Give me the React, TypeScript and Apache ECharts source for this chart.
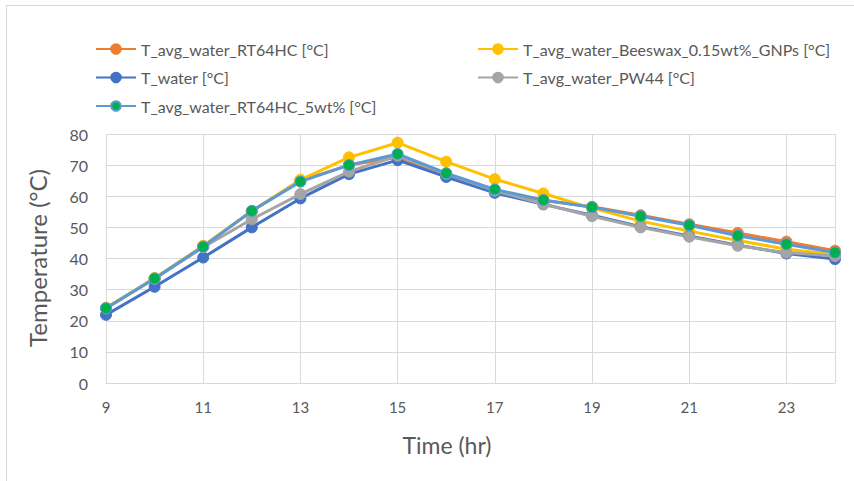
import React, { useEffect, useRef } from "react";
import * as echarts from "echarts";

const hours = [9, 10, 11, 12, 13, 14, 15, 16, 17, 18, 19, 20, 21, 22, 23, 24];
const rt64hc = [24, 33.6, 44, 55.2, 65, 70, 72.5, 66.5, 61.7, 58.6, 56.6, 53.9, 51, 48.2, 45.4, 42.5];
const beeswax = [24.2, 33.7, 44, 55.3, 65.3, 72.5, 77.2, 71.1, 65.5, 60.9, 56.2, 52, 48.8, 45.8, 43, 41.3];
const tWater = [21.9, 30.9, 40.3, 50, 59.3, 67.1, 71.6, 66.2, 61.1, 57.4, 53.9, 50.2, 47.2, 44.3, 41.6, 39.8];
const pw44 = [24, 33.5, 43.6, 52.6, 60.7, 67.9, 73, 67.2, 61.8, 57.5, 53.6, 50, 47, 44.1, 41.9, 40.8];
const rt64hc5 = [24, 33.6, 43.8, 55.3, 64.7, 70, 73.6, 67.4, 62.2, 58.8, 56.5, 53.6, 50.7, 47.3, 44.6, 41.9];

const seriesNames = [
  "T_avg_water_RT64HC [°C]",
  "T_avg_water_Beeswax_0.15wt%_GNPs [°C]",
  "T_water [°C]",
  "T_avg_water_PW44 [°C]",
  "T_avg_water_RT64HC_5wt% [°C]",
];
const lineColors = ["#ED7D31", "#FFC000", "#4472C4", "#A5A5A5", "#5B9BD5"];
const markerColors = ["#ED7D31", "#FFC000", "#4472C4", "#A5A5A5", "#00B050"];
const yTicks = [0, 80, 10];
const xTicks = [9, 24, 2];

const FONT = "Lato";
const TXT = "#595959";

export default function App() {
  const ref = useRef<HTMLDivElement>(null);
  useEffect(() => {
    if (!ref.current) return;
    const chart = echarts.init(ref.current, undefined, { renderer: "svg" });
    const allData = [rt64hc, beeswax, tWater, pw44, rt64hc5];
    const series = allData.map((d, i) => ({
      name: seriesNames[i],
      type: "line",
      data: d.map((v, j) => [hours[j], v]),
      symbol: "circle",
      symbolSize: 11,
      lineStyle: { color: lineColors[i], width: 3 },
      itemStyle: {
        color: markerColors[i],
        borderColor: i === 4 ? "#5B9BD5" : markerColors[i],
        borderWidth: 1,
      },
      z: 2 + i,
    }));
    const legendCommon = {
      orient: "vertical",
      top: 36,
      itemWidth: 40,
      itemHeight: 12,
      itemGap: 12.5,
      textStyle: { fontFamily: FONT, fontSize: 16, color: TXT, lineHeight: 16 },
      selectedMode: false,
    };
    chart.setOption({
      animation: false,
      backgroundColor: "#ffffff",
      legend: [
        { ...legendCommon, left: 90, data: [seriesNames[0], seriesNames[2], seriesNames[4]] },
        { ...legendCommon, left: 472, data: [seriesNames[1], seriesNames[3]] },
      ],
      grid: { left: 106, right: 19, top: 134, bottom: 98 },
      xAxis: {
        type: "value",
        min: xTicks[0],
        max: xTicks[1],
        interval: xTicks[2],
        axisLine: { show: true, lineStyle: { color: "#D9D9D9", width: 1 } },
        axisTick: { show: false },
        splitLine: { show: true, lineStyle: { color: "#D9D9D9", width: 1 } },
        axisLabel: { fontFamily: FONT, fontSize: 15, color: TXT, margin: 16, showMaxLabel: false },
      },
      yAxis: {
        type: "value",
        min: yTicks[0],
        max: yTicks[1],
        interval: yTicks[2],
        axisLine: { show: false },
        axisTick: { show: false },
        splitLine: { show: true, lineStyle: { color: "#D9D9D9", width: 1 } },
        axisLabel: { fontFamily: FONT, fontSize: 16, color: TXT, margin: 18 },
      },
      graphic: [
        { type: "line", shape: { x1: 6.5, y1: 5.5, x2: 854, y2: 5.5 }, style: { stroke: "#D9D9D9", lineWidth: 1 } },
        { type: "line", shape: { x1: 6.5, y1: 5.5, x2: 6.5, y2: 481 }, style: { stroke: "#D9D9D9", lineWidth: 1 } },
        {
          type: "text",
          x: 447,
          y: 445,
          style: { text: "Time (hr)", fontFamily: FONT, fontSize: 23, fill: TXT, align: "center", verticalAlign: "middle" },
        },
        {
          type: "text",
          x: 37,
          y: 258,
          rotation: Math.PI / 2,
          style: { text: "Temperature (°C)", fontFamily: FONT, fontSize: 24, fill: TXT, align: "center", verticalAlign: "middle" },
        },
      ],
      series,
    });
    return () => chart.dispose();
  }, []);
  return <div ref={ref} style={{ width: 854, height: 481, position: "absolute", left: 0, top: 0 }} />;
}
